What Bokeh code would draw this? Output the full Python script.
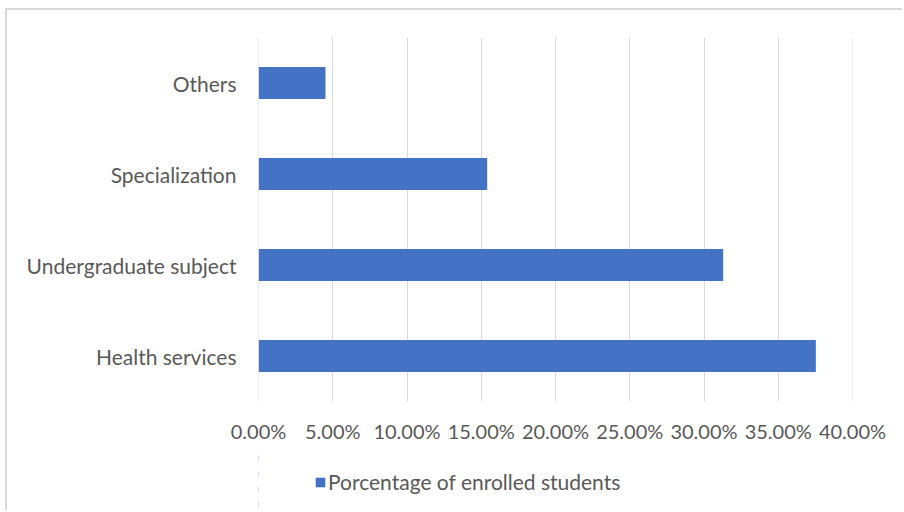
from bokeh.plotting import figure
from bokeh.layouts import column
from bokeh.models import FactorRange, Range1d, NumeralTickFormatter, FixedTicker, Legend, LegendItem, Span, ColumnDataSource
from bokeh.embed import file_html
from bokeh.resources import INLINE

categories = ["Health services", "Undergraduate subject", "Specialization", "Others"]
values = [0.3753, 0.3129, 0.1540, 0.0451]
series_name = "Porcentage of enrolled students"
x_ticks = [0.0, 0.05, 0.10, 0.15, 0.20, 0.25, 0.30, 0.35, 0.40]

FONT = "Lato"
TXT = "#595959"
GRID = "#d9d9d9"
BAR = "#4472C4"

src = ColumnDataSource(dict(cat=categories, val=values))

p = figure(output_backend="svg", toolbar_location=None,
           y_range=FactorRange(factors=categories, range_padding=0),
           x_range=Range1d(0, 0.40),
           frame_width=594, frame_height=364,
           min_border_left=251, min_border_right=52, min_border_top=27, min_border_bottom=49)
p.outline_line_color = None
p.background_fill_color = "white"
p.border_fill_color = "white"

r = p.hbar(y="cat", right="val", left=0, height=0.35, source=src, color=BAR, line_color=None)

p.xaxis.ticker = FixedTicker(ticks=x_ticks)
p.xaxis.formatter = NumeralTickFormatter(format="0.00%")
for ax in (p.xaxis[0], p.yaxis[0]):
    ax.axis_line_color = None
    ax.major_tick_line_color = None
    ax.minor_tick_line_color = None
    ax.major_label_text_font = FONT
    ax.major_label_text_color = TXT
p.xaxis.major_label_text_font_size = "20px"
p.yaxis.major_label_text_font_size = "21px"
p.yaxis.major_label_standoff = 16
p.xaxis.major_label_standoff = 11

p.ygrid.grid_line_color = None
p.xgrid.grid_line_color = GRID
p.xgrid.grid_line_width = 1
for xv in (x_ticks[0], x_ticks[-1]):
    p.add_layout(Span(location=xv, dimension="height", line_color=GRID, line_width=1))

# legend strip below the chart (its frame is aligned with the chart's frame);
# the range keeps this strip's own bars completely outside its frame
p2 = figure(output_backend="svg", toolbar_location=None, width=897, height=62,
            x_range=Range1d(1, 2), y_range=FactorRange(factors=categories),
            x_axis_type=None, y_axis_type=None, min_border=0)
p2.outline_line_color = None
p2.grid.visible = False
r2 = p2.hbar(y="cat", right="val", left=0, height=0.35, source=src, color=BAR, line_color=None)
legend = Legend(items=[LegendItem(label=series_name, renderers=[r2])],
                orientation="horizontal", location=(56, 18),
                label_text_font=FONT, label_text_font_size="21px", label_text_color=TXT,
                glyph_width=12, glyph_height=12, label_standoff=2,
                border_line_color=None, background_fill_alpha=0,
                margin=0, padding=0)
p2.add_layout(legend, "center")

layout = column(p, p2, spacing=0, margin=(10, 0, 0, 7),
                styles={"box-shadow": "-2px -2px 0 0 #d9d9d9", "background-color": "white"})

open("out.html", "w").write(file_html(layout, INLINE))
